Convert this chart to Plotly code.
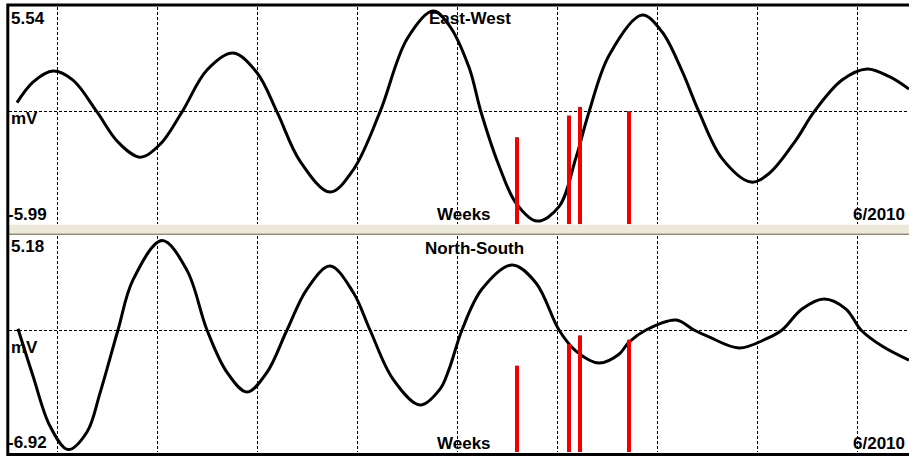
import plotly.graph_objects as go

# East-West channel (mV) against time in weeks
ew_weeks = [-0.40, -0.24, -0.04, 0.16, 0.40, 0.61, 0.83, 1.03, 1.25, 1.50, 1.76, 2.00,
            2.20, 2.43, 2.73, 2.96, 3.23, 3.50, 3.76, 3.92, 4.12, 4.24, 4.42, 4.59,
            4.80, 5.02, 5.19, 5.32, 5.52, 5.85, 6.05, 6.25, 6.42, 6.65, 6.94, 7.12,
            7.39, 7.57, 7.85, 8.10, 8.32, 8.52]
ew_mv = [0.51, 1.64, 2.25, 1.75, 0.00, -1.65, -2.48, -1.78, 0.00, 2.30, 3.23, 2.15,
         0.00, -2.70, -4.40, -3.20, 0.00, 4.00, 5.54, 4.77, 2.45, 0.00, -2.95, -5.00,
         -5.99, -5.20, -2.50, 0.00, 3.10, 5.32, 4.40, 2.25, 0.00, -2.55, -3.85, -3.38,
         -1.54, 0.00, 1.75, 2.36, 1.95, 1.26]

# North-South channel (mV)
ns_weeks = [-0.39, -0.24, -0.07, 0.11, 0.30, 0.43, 0.61, 0.76, 1.05, 1.30, 1.50, 1.70,
            1.90, 2.10, 2.30, 2.50, 2.73, 2.96, 3.13, 3.36, 3.63, 3.83, 3.92, 4.05,
            4.25, 4.55, 4.79, 5.02, 5.19, 5.42, 5.62, 5.72, 5.89, 6.19, 6.37, 6.52,
            6.82, 7.09, 7.25, 7.45, 7.67, 7.89, 8.04, 8.25, 8.52]
ns_mv = [0.07, -2.66, -5.56, -6.92, -5.90, -3.65, 0.00, 2.90, 5.18, 3.45, 0.00, -2.45,
         -3.59, -2.45, 0.00, 2.37, 3.70, 2.20, 0.00, -2.84, -4.34, -3.42, -2.28, 0.00,
         2.37, 3.76, 2.72, 0.00, -1.22, -1.91, -1.40, -0.70, 0.00, 0.58, 0.00, -0.40,
         -1.04, -0.52, 0.00, 1.21, 1.79, 1.21, 0.00, -0.93, -1.75]

# Seismic events (week, magnitude)
event_weeks = [4.60, 5.12, 5.23, 5.72]
event_mag = [4.0, 5.0, 5.4, 5.2]

ew_range = [-5.99, 5.54]
ns_range = [-6.92, 5.18]

W, H = 909, 456


def px(x):
    return x / W


def py(y):
    return 1 - y / H


FONT = dict(family="Arial, Liberation Sans, sans-serif", size=17, color="black", weight="bold")
GRID = dict(showgrid=True, gridcolor="black", gridwidth=1, griddash="3px,2px",
            zeroline=False, showticklabels=False, ticks="", showline=False)
CURVE = dict(color="black", width=3, shape="spline", smoothing=1.0)

fig = go.Figure()

fig.add_trace(go.Scatter(x=ew_weeks, y=ew_mv, mode="lines", xaxis="x", yaxis="y",
                         line=CURVE, hoverinfo="skip"))
fig.add_trace(go.Scatter(x=ns_weeks, y=ns_mv, mode="lines", xaxis="x2", yaxis="y2",
                         line=CURVE, hoverinfo="skip"))
fig.add_trace(go.Bar(x=event_weeks, y=event_mag, width=0.04, xaxis="x", yaxis="y3",
                     marker=dict(color="#f00000", line=dict(width=0)), hoverinfo="skip"))
fig.add_trace(go.Bar(x=event_weeks, y=event_mag, width=0.04, xaxis="x2", yaxis="y4",
                     marker=dict(color="#f00000", line=dict(width=0)), hoverinfo="skip"))

x_rng = [-0.48, 8.52]
top_dom = [py(224), py(7)]
bot_dom = [py(452), py(236)]

fig.update_layout(
    width=W, height=H, margin=dict(l=0, r=0, t=0, b=0),
    paper_bgcolor="white", plot_bgcolor="white", showlegend=False,
    xaxis=dict(domain=[px(9), 1], range=x_rng, tick0=0, dtick=1, anchor="y", **GRID),
    xaxis2=dict(domain=[px(9), 1], range=x_rng, tick0=0, dtick=1, anchor="y2", **GRID),
    yaxis=dict(domain=top_dom, range=[-6.15, 5.76], tickvals=[0], anchor="x", **GRID),
    yaxis2=dict(domain=bot_dom, range=[-7.06, 5.44], tickvals=[0], anchor="x2", **GRID),
    yaxis3=dict(range=[0, 10], overlaying="y", anchor="x", visible=False),
    yaxis4=dict(range=[0, 10], overlaying="y2", anchor="x2", visible=False),
)


def label(text, x, y, anchor="left"):
    fig.add_annotation(text=text, x=px(x), y=py(y), xref="paper", yref="paper",
                       xanchor=anchor, yanchor="middle", showarrow=False, font=FONT,
                       borderpad=0)


# East-West panel labels
label(f"{ew_range[1]:.2f}", 10, 19)
label("mV", 10, 118)
label(f"{ew_range[0]:.2f}", 7, 214)
label("East-West", 470, 19, "center")
label("Weeks", 436, 214)
label("6/2010", 852, 214)

# North-South panel labels
label(f"{ns_range[1]:.2f}", 10, 247)
label("mV", 10, 347)
label(f"{ns_range[0]:.2f}", 7, 442)
label("North-South", 475, 248, "center")
label("Weeks", 436, 443)
label("6/2010", 852, 443)

# Splitter bar between the two panels
fig.add_shape(type="rect", xref="paper", yref="paper", x0=px(9), x1=1.02,
              y0=py(233.5), y1=py(224.5), fillcolor="#ECE9D8", line=dict(width=0), layer="above")
fig.add_shape(type="line", xref="paper", yref="paper", x0=px(9), x1=1.02,
              y0=py(224.5), y1=py(224.5), line=dict(color="#F8F7F0", width=1), layer="above")
fig.add_shape(type="line", xref="paper", yref="paper", x0=px(9), x1=1.02,
              y0=py(234.2), y1=py(234.2), line=dict(color="#8E8C80", width=1.6), layer="above")

# Window frame
fig.add_shape(type="rect", xref="paper", yref="paper", x0=px(7.8), x1=1.05,
              y0=py(454.6), y1=py(5), line=dict(color="black", width=3),
              fillcolor="rgba(0,0,0,0)", layer="above")

fig.write_html("out.html")
